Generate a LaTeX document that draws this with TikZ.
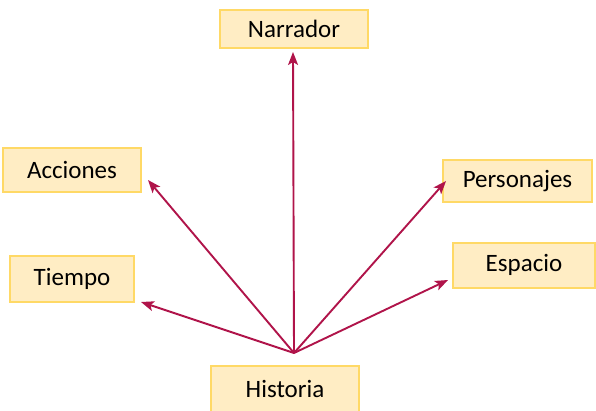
\documentclass[tikz,border=0pt]{standalone}
\usepackage{fontspec}
\setmainfont{Carlito}
\usetikzlibrary{arrows.meta}
\definecolor{boxfill}{HTML}{FFEDC4}
\definecolor{boxline}{HTML}{FFD966}
\definecolor{arrowc}{HTML}{B0144A}
\begin{document}
\begin{tikzpicture}[x=1pt,y=1pt,
  lbl/.style={draw=boxline,fill=boxfill,line width=2pt,inner sep=0pt,font=\fontsize{25}{30}\selectfont,text=black},
  conn/.style={draw=arrowc,line width=1.9pt,-{Stealth[length=13pt,width=10pt,inset=3pt]}}]
\useasboundingbox (0,0) rectangle (596,410);
\node[lbl,minimum width=148pt,minimum height=38pt] (narr) at (294,381) {Narrador};
\node[lbl,minimum width=138pt,minimum height=43pt] (acc) at (72,240) {Acciones};
\node[lbl,minimum width=149pt,minimum height=42pt] (pers) at (517.5,229) {Personajes};
\node[lbl,minimum width=142pt,minimum height=45pt] (esp) at (524,145) {Espacio};
\node[lbl,minimum width=124pt,minimum height=46pt] (tiem) at (72,131) {Tiempo};
\node[lbl,minimum width=148pt,minimum height=46pt] (hist) at (285,21) {Historia};
\coordinate (o) at (294,57);
\coordinate (tN) at (293,358);
\coordinate (tA) at (148,230);
\coordinate (tP) at (446,229);
\coordinate (tE) at (448,130);
\coordinate (tT) at (141,108);
\draw[conn] (o) -- (tN);
\draw[conn] (o) -- (tA);
\draw[conn] (o) -- (tP);
\draw[conn] (o) -- (tE);
\draw[conn] (o) -- (tT);
\end{tikzpicture}
\end{document}
